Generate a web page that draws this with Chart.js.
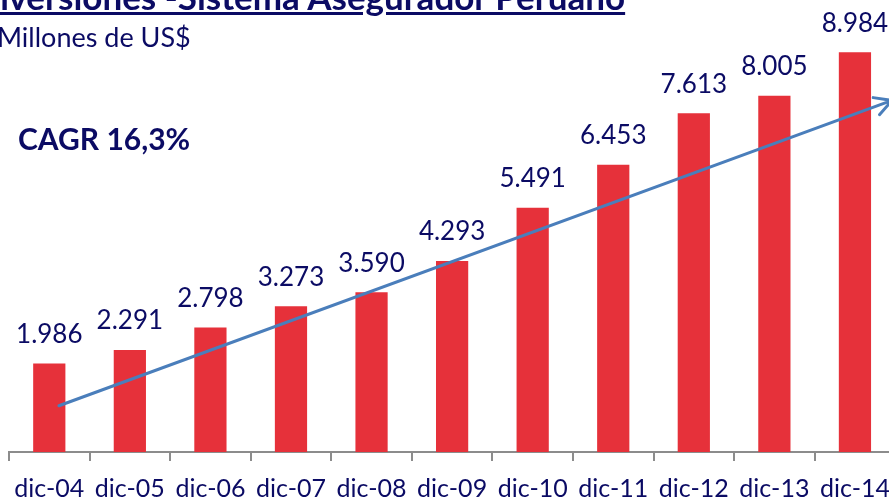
<!DOCTYPE html>
<html>
<head>
<meta charset="utf-8">
<script src="https://cdn.jsdelivr.net/npm/chart.js@4.4.1/dist/chart.umd.min.js"></script>
<style>
    html, body { margin: 0; padding: 0; background: #fff; overflow: hidden; }
    #wrap { position: relative; width: 903px; height: 499px; overflow: hidden; }
    #title { position: absolute; left: -21px; top: -25px; font: bold 35px Lato, sans-serif; color: #0B0B64; text-decoration: underline; white-space: nowrap; }
    #subtitle { position: absolute; left: -3px; top: 20px; font: 27px Lato, sans-serif; color: #0B0B64; white-space: nowrap; }
    #cagr { position: absolute; left: 18px; top: 120px; font: bold 30px Lato, sans-serif; color: #0B0B64; white-space: nowrap; }
</style>
</head>
<body>
<div id="wrap">
    <canvas id="chart" width="903" height="519"></canvas>
    <div id="title">Inversiones -Sistema Asegurador Peruano</div>
    <div id="subtitle">Millones de US$</div>
    <div id="cagr">CAGR 16,3%</div>
</div>
<script>
var categories = ['dic-04', 'dic-05', 'dic-06', 'dic-07', 'dic-08', 'dic-09', 'dic-10', 'dic-11', 'dic-12', 'dic-13', 'dic-14'];
var inversiones = [1986, 2291, 2798, 3273, 3590, 4293, 5491, 6453, 7613, 8005, 8984];
var valueLabels = ['1.986', '2.291', '2.798', '3.273', '3.590', '4.293', '5.491', '6.453', '7.613', '8.005', '8.984'];
// trend arrow, in (category index, value) units
var trendStart = [0.12, 1040];
var trendEnd = [10.46, 7900];

var navy = '#0B0B64';

var barLabels = {
    id: 'barLabels',
    afterDatasetsDraw(chart) {
        var ctx = chart.ctx;
        var meta = chart.getDatasetMeta(0);
        ctx.save();
        ctx.font = '26px Lato, sans-serif';
        ctx.fillStyle = navy;
        ctx.textAlign = 'center';
        ctx.textBaseline = 'middle';
        meta.data.forEach((bar, i) => {
            ctx.fillText(valueLabels[i], bar.x, bar.y - 29);
        });
        ctx.restore();
    }
};

var trendArrow = {
    id: 'trendArrow',
    afterDatasetsDraw(chart) {
        var ctx = chart.ctx;
        var xs = chart.scales.x, ys = chart.scales.y;
        var x1 = xs.getPixelForValue(trendStart[0]), y1 = ys.getPixelForValue(trendStart[1]);
        var x2 = xs.getPixelForValue(trendEnd[0]), y2 = ys.getPixelForValue(trendEnd[1]);
        var ang = Math.atan2(y2 - y1, x2 - x1);
        ctx.save();
        ctx.strokeStyle = '#4A7EBB';
        ctx.lineWidth = 3;
        ctx.lineCap = 'round';
        ctx.beginPath();
        ctx.moveTo(x1, y1);
        ctx.lineTo(x2, y2);
        ctx.moveTo(x2 - 19 * Math.cos(ang - 0.5), y2 - 19 * Math.sin(ang - 0.5));
        ctx.lineTo(x2, y2);
        ctx.lineTo(x2 - 19 * Math.cos(ang + 0.5), y2 - 19 * Math.sin(ang + 0.5));
        ctx.stroke();
        ctx.restore();
    }
};

var chart = new Chart(document.getElementById('chart'), {
    type: 'bar',
    data: {
        labels: categories,
        datasets: [{
            data: inversiones,
            backgroundColor: '#E6313A',
            categoryPercentage: 1,
            barPercentage: 0.4
        }]
    },
    options: {
        responsive: false,
        animation: false,
        layout: { padding: { left: 9, right: 1, top: 7, bottom: 2 } },
        plugins: { legend: { display: false }, tooltip: { enabled: false } },
        scales: {
            x: {
                grid: { offset: true, drawOnChartArea: false, tickLength: 9, color: '#8C8C8C', lineWidth: 2 },
                border: { color: '#8C8C8C', width: 2 },
                ticks: { color: navy, font: { family: 'Lato', size: 25 }, padding: 13, maxRotation: 0, autoSkip: false }
            },
            y: { display: false, min: 0, max: 10000 }
        }
    },
    plugins: [barLabels, trendArrow]
});
</script>
</body>
</html>
